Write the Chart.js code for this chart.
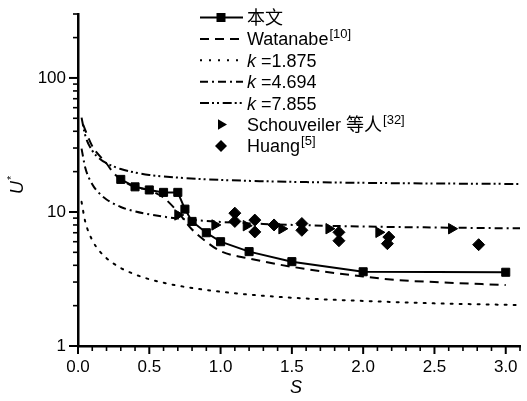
<!DOCTYPE html>
<html>
<head>
<meta charset="utf-8">
<script src="https://cdn.jsdelivr.net/npm/chart.js@4.4.0/dist/chart.umd.min.js"></script>
<style>
  body { margin: 0; background: #fff; }
  #wrap { width: 527px; height: 401px; }
</style>
</head>
<body>
<div id="wrap"><canvas id="myChart" width="527" height="401"></canvas></div>
<script>
// 本文
var benwenS = [0.3, 0.4, 0.5, 0.6, 0.7, 0.75, 0.8, 0.9, 1.0, 1.2, 1.5, 2.0, 3.0];
var benwenU = [17.5, 15.4, 14.6, 14.0, 14.0, 10.5, 8.5, 7.0, 6.0, 5.06, 4.26, 3.58, 3.55];
// Watanabe [10]
var watanabeS = [0.035, 0.1, 0.2, 0.25, 0.3, 0.4, 0.5, 0.6, 0.7, 0.8, 0.9, 1.0, 1.2, 1.5, 2.0, 2.25, 2.5, 3.0];
var watanabeU = [45, 31, 23, 19.5, 17.5, 15.4, 14.5, 12.8, 10, 7.4, 6.0, 5.1, 4.5, 3.9, 3.3, 3.1, 3.0, 2.85];
// k = 1.875 / 4.694 / 7.855
var curveS = [0.025, 0.05, 0.1, 0.15, 0.2, 0.3, 0.4, 0.5, 0.7, 1.0, 1.3, 1.6, 2.0, 2.5, 3.0, 3.1];
var k1875U = [11.9, 8.54, 6.16, 5.13, 4.52, 3.82, 3.42, 3.15, 2.82, 2.54, 2.37, 2.26, 2.17, 2.08, 2.03, 2.02];
var k4694U = [29.7, 21.6, 16.1, 13.75, 12.4, 10.9, 10.1, 9.6, 8.94, 8.43, 8.14, 7.96, 7.79, 7.66, 7.56, 7.55];
var k7855U = [50.6, 37.5, 28.7, 25.1, 23.1, 20.9, 19.7, 18.9, 18.05, 17.35, 16.96, 16.71, 16.49, 16.32, 16.2, 16.18];
// Schouveiler 等人 [32]
var schouS = [0.70, 0.96, 1.18, 1.43, 1.76, 2.11, 2.62];
var schouU = [9.5, 8.0, 7.9, 7.5, 7.5, 7.05, 7.5];
// Huang [5]
var huangS = [1.10, 1.10, 1.24, 1.24, 1.375, 1.57, 1.57, 1.83, 1.83, 2.17, 2.18, 2.81];
var huangU = [9.8, 8.5, 8.7, 7.1, 8.0, 8.2, 7.3, 7.05, 6.1, 5.8, 6.5, 5.7];

var xTicks = [0, 0.5, 1, 1.5, 2, 2.5, 3];
var yTicks = [1, 10, 100];

var FONT = '"Liberation Sans", Arial, "Noto Sans CJK SC", sans-serif';

function pts(xs, ys) {
  return xs.map(function (x, i) { return { x: x, y: ys[i] }; });
}

function lineSet(label, xs, ys, dash, extra) {
  var d = {
    label: label,
    data: pts(xs, ys),
    showLine: true,
    borderColor: '#000',
    backgroundColor: '#000',
    borderWidth: 2,
    borderDash: dash,
    pointRadius: 0,
    cubicInterpolationMode: 'monotone',
    fill: false
  };
  for (var k in extra) d[k] = extra[k];
  return d;
}

var datasets = [
  lineSet('k=1.875', curveS, k1875U, [2, 7], { borderCapStyle: 'round' }),
  lineSet('k=4.694', curveS, k4694U, [8, 4, 2, 4]),
  lineSet('k=7.855', curveS, k7855U, [9, 3, 2, 3, 2, 3.7]),
  lineSet('Watanabe', watanabeS, watanabeU, [9, 6]),
  lineSet('本文', benwenS, benwenU, [], {
    pointRadius: 5.7, pointBorderWidth: 1, pointStyle: 'rect',
    cubicInterpolationMode: 'default', tension: 0
  }),
  {
    label: 'Schouveiler',
    data: pts(schouS, schouU),
    pointStyle: 'triangle',
    rotation: 90,
    pointRadius: 6,
    backgroundColor: '#000',
    borderColor: '#000',
    borderWidth: 1
  },
  {
    label: 'Huang',
    data: pts(huangS, huangU),
    pointStyle: 'rectRot',
    pointRadius: 6,
    backgroundColor: '#000',
    borderColor: '#000',
    borderWidth: 1
  }
];

// legend rows: line dash, marker, text pieces
var legendRows = [
  { dash: [], marker: 'rect', text: [{ t: '本文' }] },
  { dash: [9, 6], text: [{ t: 'Watanabe' }, { t: '[10]', sup: true }] },
  { dash: [2, 7], text: [{ t: 'k', it: true }, { t: ' =1.875' }] },
  { dash: [8, 4, 2, 4], text: [{ t: 'k', it: true }, { t: ' =4.694' }] },
  { dash: [9, 3, 2, 3, 2, 3.7], text: [{ t: 'k', it: true }, { t: ' =7.855' }] },
  { marker: 'tri', text: [{ t: 'Schouveiler ' }, { t: '等人' }, { t: '[32]', sup: true }] },
  { marker: 'dia', text: [{ t: 'Huang' }, { t: '[5]', sup: true }] }
];

function drawMarker(ctx, kind, x, y) {
  ctx.fillStyle = '#000';
  ctx.beginPath();
  if (kind === 'rect') {
    ctx.rect(x - 4.5, y - 4.5, 9, 9);
  } else if (kind === 'tri') {
    ctx.moveTo(x + 6, y);
    ctx.lineTo(x - 3, y - 5.2);
    ctx.lineTo(x - 3, y + 5.2);
    ctx.closePath();
  } else if (kind === 'dia') {
    ctx.moveTo(x, y - 6);
    ctx.lineTo(x + 6, y);
    ctx.lineTo(x, y + 6);
    ctx.lineTo(x - 6, y);
    ctx.closePath();
  }
  ctx.fill();
}

var decor = {
  id: 'decor',
  afterDraw: function (chart) {
    var ctx = chart.ctx;
    var xs = chart.scales.x, ys = chart.scales.y;
    var area = chart.chartArea;
    ctx.save();
    ctx.strokeStyle = '#000';
    ctx.setLineDash([]);

    // x ticks (major every 0.5, minor every 0.1)
    for (var i = 0; i <= 31; i++) {
      var v = i / 10;
      var px = xs.getPixelForValue(v);
      var major = i % 5 === 0;
      ctx.lineWidth = major ? 2 : 1.6;
      ctx.beginPath();
      ctx.moveTo(px, area.bottom);
      ctx.lineTo(px, area.bottom + (major ? 8 : 5));
      ctx.stroke();
    }
    // y ticks on log axis
    for (var d = 1; d <= 100; d *= 10) {
      for (var m = 1; m <= 9; m++) {
        var val = d * m;
        if (val > 300) break;
        var py = ys.getPixelForValue(val);
        var maj = m === 1;
        ctx.lineWidth = maj ? 2 : 1.6;
        ctx.beginPath();
        ctx.moveTo(area.left, py);
        ctx.lineTo(area.left - (maj ? 9 : 5), py);
        ctx.stroke();
      }
    }

    // axis titles
    ctx.fillStyle = '#000';
    ctx.textBaseline = 'alphabetic';
    ctx.textAlign = 'center';
    ctx.font = 'italic 18px ' + FONT;
    ctx.fillText('S', 296, 393);

    ctx.save();
    ctx.translate(23, 188);
    ctx.rotate(-Math.PI / 2);
    ctx.textAlign = 'left';
    ctx.font = 'italic 18px ' + FONT;
    ctx.fillText('U', -6, 0);
    var uw = ctx.measureText('U').width;
    ctx.font = '11px ' + FONT;
    ctx.fillText('*', -6 + uw + 1, -8);
    ctx.restore();

    // legend
    var y0 = 17.5, dy = 21.4;
    legendRows.forEach(function (row, r) {
      var y = y0 + r * dy;
      if (row.dash) {
        ctx.lineWidth = 2;
        ctx.setLineDash(row.dash);
        ctx.beginPath();
        ctx.moveTo(200, y);
        ctx.lineTo(243, y);
        ctx.stroke();
        ctx.setLineDash([]);
      }
      if (row.marker) drawMarker(ctx, row.marker, 221, y);
      var tx = 247;
      ctx.textAlign = 'left';
      ctx.textBaseline = 'alphabetic';
      row.text.forEach(function (p) {
        if (p.sup) {
          ctx.font = '13px ' + FONT;
          ctx.fillText(p.t, tx + 1, y - 1);
          tx += ctx.measureText(p.t).width + 1;
        } else {
          ctx.font = (p.it ? 'italic ' : '') + '18px ' + FONT;
          ctx.fillText(p.t, tx, y + 6.5);
          tx += ctx.measureText(p.t).width;
        }
      });
    });
    ctx.restore();
  }
};

var ctx = document.getElementById('myChart').getContext('2d');
var myChart = new Chart(ctx, {
  type: 'scatter',
  data: { datasets: datasets },
  options: {
    responsive: false,
    animation: false,
    layout: { padding: { top: 14, right: -1, left: 0, bottom: 0 } },
    plugins: {
      legend: { display: false },
      tooltip: { enabled: false }
    },
    scales: {
      x: {
        type: 'linear',
        min: 0,
        max: 3.1,
        afterFit: function (s) {
          s.height = 55;
          s.paddingLeft = 0;
          s.paddingRight = 0;
        },
        afterBuildTicks: function (s) {
          s.ticks = xTicks.map(function (v) { return { value: v }; });
        },
        grid: { display: true, drawOnChartArea: false, drawTicks: false },
        border: { display: true, color: '#000', width: 2.5 },
        ticks: {
          color: '#000',
          padding: 11,
          maxRotation: 0,
          autoSkip: false,
          font: { family: FONT, size: 17 },
          callback: function (v) { return Number(v).toFixed(1); }
        }
      },
      y: {
        type: 'logarithmic',
        min: 1,
        max: 300,
        afterFit: function (s) {
          s.width = 78;
          s.paddingTop = 0;
          s.paddingBottom = 0;
        },
        afterBuildTicks: function (s) {
          s.ticks = yTicks.map(function (v) { return { value: v }; });
        },
        grid: { display: true, drawOnChartArea: false, drawTicks: false },
        border: { display: true, color: '#000', width: 2.5 },
        ticks: {
          color: '#000',
          padding: 12,
          autoSkip: false,
          font: { family: FONT, size: 17 },
          callback: function (v) { return String(v); }
        }
      }
    }
  },
  plugins: [decor]
});
</script>
</body>
</html>
